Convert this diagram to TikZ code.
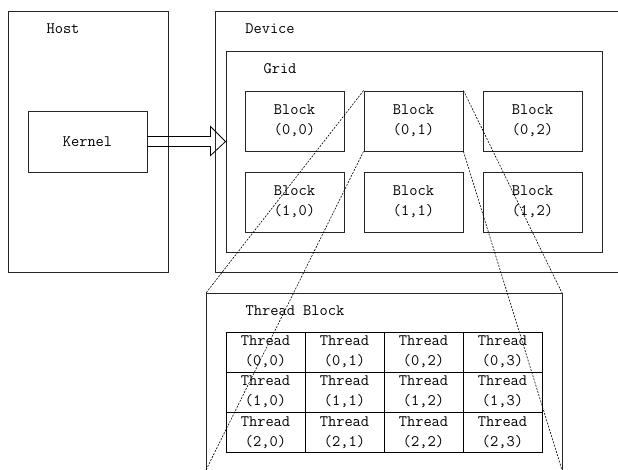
\documentclass[tikz,border=0pt]{standalone}
\usetikzlibrary{calc}
\begin{document}
\begin{tikzpicture}[x=1pt,y=-1pt,
  every node/.style={font=\fontsize{16}{20}\selectfont\ttfamily, inner sep=0pt},
  frame/.style={draw=black!85, line width=0.9pt},
  box/.style={frame, minimum width=99pt, minimum height=60pt, align=center},
  cell/.style={draw=black, line width=1pt, minimum width=79pt, minimum height=40pt, align=center},
  title/.style={anchor=center},
  zoomline/.style={draw=black, line width=0.6pt, dash pattern=on 2pt off 1.3pt}]
\useasboundingbox (0,0) rectangle (618,470);

% Host
\node[frame, minimum width=160pt, minimum height=261pt] (host) at (88,141.5) {};
\node[title] (hostlbl) at (63,29) {Host};
\node[frame, minimum width=119pt, minimum height=61pt] (kernel) at (87.5,141.5) {Kernel};

% Device (open on the right)
\coordinate (devTR) at (618,11);
\coordinate (devBR) at (618,272);
\draw[frame] (devTR) -- (215,11) -- (215,272) -- (devBR);
\node[title] (devlbl) at (270,29) {Device};

% Grid
\node[frame, minimum width=376pt, minimum height=201pt] (grid) at (414,151.5) {};
\node[title] (gridlbl) at (280,69) {Grid};

% Blocks
\node[box] (b00) at (294.5,121) {Block\\(0,0)};
\node[box] (b01) at (413.5,121) {Block\\(0,1)};
\node[box] (b02) at (532.5,121) {Block\\(0,2)};
\node[box] (b10) at (294.5,202) {Block\\(1,0)};
\node[box] (b11) at (413.5,202) {Block\\(1,1)};
\node[box] (b12) at (532.5,202) {Block\\(1,2)};

% Kernel -> Grid arrow (hollow)
\coordinate (tip) at (kernel.east -| grid.west);
\draw[line width=0.8pt]
  ($(kernel.east)+(0,-5)$) -- ($(tip)+(-15,-5)$) -- ($(tip)+(-15,-15)$)
  -- (tip) -- ($(tip)+(-15,14)$) -- ($(tip)+(-15,5)$)
  -- ($(kernel.east)+(0,5)$);

% Thread block (open at the bottom)
\coordinate (tbTL) at (206,293);
\coordinate (tbTR) at (562,293);
\coordinate (tbBL) at (206,470);
\coordinate (tbBR) at (562,470);
\draw[frame] (tbBL) -- (tbTL) -- (tbTR) -- (tbBR);
\node[title] (tblbl) at (295,311) {Thread Block};

% Threads
\foreach \r/\y in {0/352,1/392,2/432.5}{
  \foreach \c/\x in {0/265.5,1/344.5,2/423.5,3/502.5}{
    \node[cell] (t\r\c) at (\x,\y) {Thread\\(\r,\c)};
  }
}

% Zoom lines
\draw[zoomline] (b01.north west) -- (tbTL);
\draw[zoomline] (b01.south west) -- (tbBL);
\draw[zoomline] (b01.north east) -- (tbTR);
\draw[zoomline] (b01.south east) -- (tbBR);
\end{tikzpicture}
\end{document}
